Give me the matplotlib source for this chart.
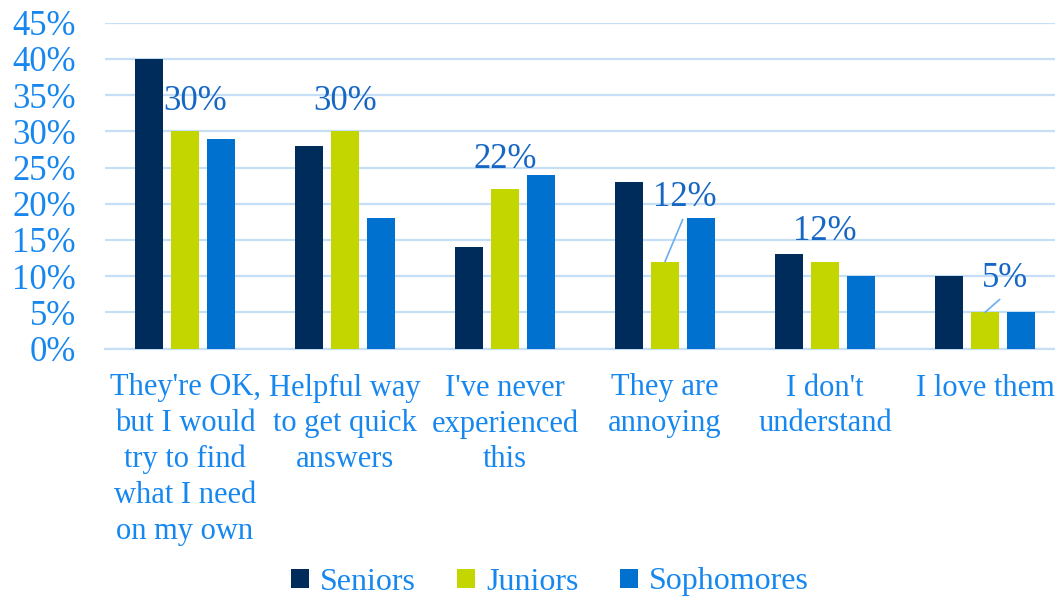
import numpy as np
import matplotlib.pyplot as plt

plt.rcParams['font.family'] = ['Liberation Serif', 'DejaVu Serif']

categories = ["They're OK,\nbut I would\ntry to find\nwhat I need\non my own",
              "Helpful way\nto get quick\nanswers",
              "I've never\nexperienced\nthis",
              "They are\nannoying",
              "I don't\nunderstand",
              "I love them"]
seniors = [40, 28, 14, 23, 13, 10]
juniors = [30, 30, 22, 12, 12, 5]
sophomores = [29, 18, 24, 18, 10, 5]

series = [("Seniors", seniors, "#002c5c"),
          ("Juniors", juniors, "#c4d600"),
          ("Sophomores", sophomores, "#0071ce")]

tick_col = "#1787f0"
label_col = "#1667c4"
grid_col = "#c6def6"

fig = plt.figure(figsize=(10.55, 5.97), dpi=100)
ax = fig.add_axes([105 / 1055, (597 - 348.5) / 597, 960 / 1055, (348.5 - 22.7) / 597])

x = np.arange(len(categories))
w = 0.175
step = 0.225
for i, (name, vals, col) in enumerate(series):
    ax.bar(x + (i - 1) * step, np.array(vals) / 100, w, color=col, label=name, zorder=3)

ax.set_xlim(-0.5, len(categories) - 0.5)
ax.set_ylim(0, 0.45)
ax.set_yticks(np.arange(0, 0.46, 0.05))
ax.set_yticklabels([f"{int(round(t * 100))}%" for t in np.arange(0, 0.46, 0.05)])
ax.yaxis.grid(True, color=grid_col, lw=1.6, zorder=0)
ax.set_axisbelow(True)
for s in ["top", "right", "left"]:
    ax.spines[s].set_visible(False)
ax.spines["bottom"].set_color(grid_col)
ax.spines["bottom"].set_linewidth(1.6)

ax.set_xticks(x)
ax.set_xticklabels(categories, linespacing=1.3, va="top")
ax.tick_params(axis="x", length=0, pad=18, labelsize=22, labelcolor=tick_col)
ax.tick_params(axis="y", length=0, pad=21, labelsize=25, labelcolor=tick_col)

# juniors value labels; two of them sit aside with a leader line
offsets = {0: (10, 30), 3: (20, 64), 5: (20, 34)}
for i, v in enumerate(juniors):
    dx, dy = offsets.get(i, (0, 30))
    xy = (x[i], v / 100)
    if i in (3, 5):
        ax.annotate(f"{v}%", xy=xy, xytext=(dx, dy), textcoords="offset pixels",
                    ha="center", va="center", fontsize=25, color=label_col,
                    arrowprops=dict(arrowstyle="-", color="#6aaef0", lw=1.2,
                                    relpos=(0.5, 0), shrinkA=2, shrinkB=0))
    else:
        ax.annotate(f"{v}%", xy=xy, xytext=(dx, dy), textcoords="offset pixels",
                    ha="center", va="center", fontsize=25, color=label_col)

leg = fig.legend(loc="center", bbox_to_anchor=(550 / 1055, 1 - 582 / 597), ncol=3,
                 frameon=False, fontsize=23, handlelength=0.55, handleheight=0.55,
                 handletextpad=0.35, columnspacing=1.3)
for t in leg.get_texts():
    t.set_color(tick_col)

fig.savefig("out.png", dpi=100)
